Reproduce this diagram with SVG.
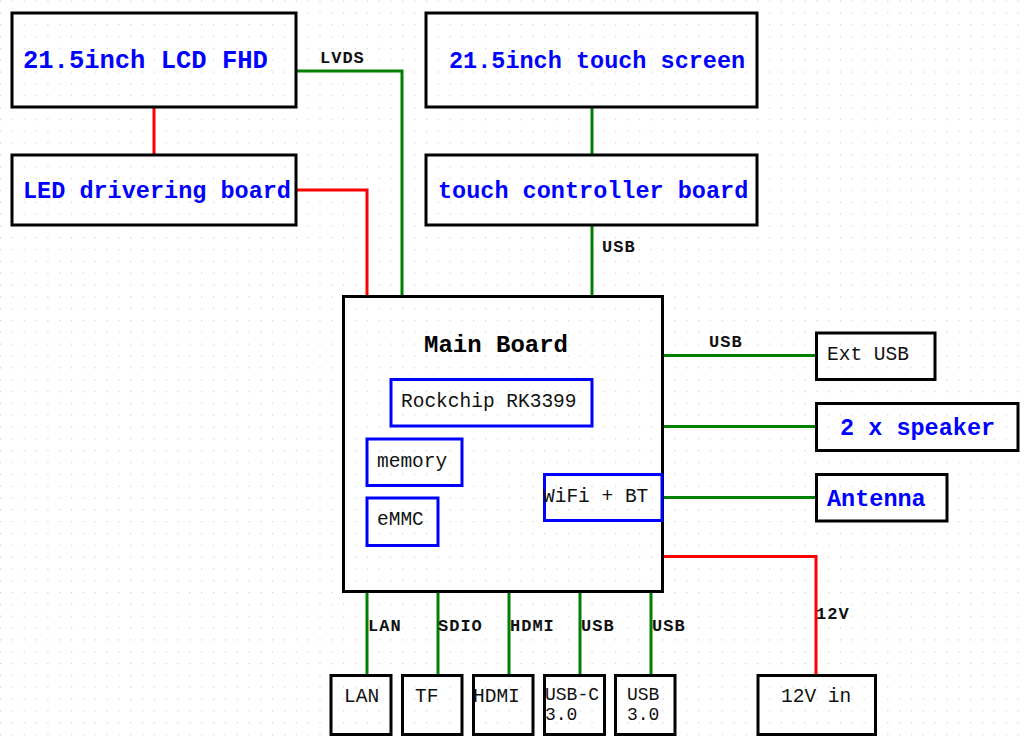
<svg xmlns="http://www.w3.org/2000/svg" width="1025" height="740" viewBox="0 0 1025 740">
<style>
.box{fill:none;stroke:#000;stroke-width:3}
.chip{fill:none;stroke:#0000ff;stroke-width:3}
.g{fill:none;stroke:#008000;stroke-width:3}
.r{fill:none;stroke:#ff0000;stroke-width:3}
text{font-family:"Liberation Mono","Courier New",monospace}
.big{font-size:23.5px;font-weight:bold;fill:#0000ff}
.t{font-size:19.5px;fill:#111}
.s{font-size:18px;fill:#111}
.lb{font-size:17px;fill:#111;font-weight:bold;letter-spacing:1px}
</style>
<defs>
<pattern id="dots" x="0" y="0.5" width="11.83" height="11.83" patternUnits="userSpaceOnUse">
<rect x="0" y="0" width="1.2" height="1.2" fill="#cfcfcf"/>
</pattern>
</defs>
<rect width="1025" height="740" fill="#fff"/>
<rect width="1025" height="740" fill="url(#dots)"/>

<g id="connectors">
<polyline class="g" points="296,71 402,71 402,296"/>
<polyline class="r" points="296,190 367,190 367,296"/>
<line class="r" x1="154" y1="107" x2="154" y2="155"/>
<line class="g" x1="592" y1="107" x2="592" y2="155"/>
<line class="g" x1="592" y1="225" x2="592" y2="296"/>
<line class="g" x1="662" y1="355.5" x2="816" y2="355.5"/>
<line class="g" x1="662" y1="426.5" x2="816" y2="426.5"/>
<line class="g" x1="662" y1="497.5" x2="816" y2="497.5"/>
<polyline class="r" points="662,556.5 816,556.5 816,675"/>
<line class="g" x1="367" y1="591" x2="367" y2="675"/>
<line class="g" x1="438" y1="591" x2="438" y2="675"/>
<line class="g" x1="509" y1="591" x2="509" y2="675"/>
<line class="g" x1="580" y1="591" x2="580" y2="675"/>
<line class="g" x1="651" y1="591" x2="651" y2="675"/>
<text class="lb" x="320" y="63">LVDS</text>
<text class="lb" x="602" y="252">USB</text>
<text class="lb" x="709" y="347">USB</text>
<text class="lb" x="816" y="619">12V</text>
<text class="lb" x="368" y="631">LAN</text>
<text class="lb" x="438" y="631">SDIO</text>
<text class="lb" x="510" y="631">HDMI</text>
<text class="lb" x="581" y="631">USB</text>
<text class="lb" x="652" y="631">USB</text>
</g>

<g id="lcd">
<rect class="box" x="12" y="13" width="284" height="94"/>
<text class="big" x="23" y="68" style="font-size:25.5px">21.5inch LCD FHD</text>
</g>
<g id="led">
<rect class="box" x="12" y="155" width="284" height="70"/>
<text class="big" x="23" y="198">LED drivering board</text>
</g>
<g id="touchscreen">
<rect class="box" x="426" y="13" width="331" height="94"/>
<text class="big" x="449" y="68">21.5inch touch screen</text>
</g>
<g id="touchctrl">
<rect class="box" x="426" y="155" width="331" height="70"/>
<text class="big" x="438" y="198">touch controller board</text>
</g>

<g id="mainboard">
<rect class="box" x="343.5" y="296.5" width="319" height="295"/>
<text x="424" y="352" style="font-size:24px;font-weight:bold;fill:#000">Main Board</text>
</g>
<g id="rockchip">
<rect class="chip" x="391" y="379.5" width="201" height="46.5"/>
<text class="t" x="401" y="407">Rockchip RK3399</text>
</g>
<g id="memory">
<rect class="chip" x="367" y="439" width="95" height="46.5"/>
<text class="t" x="377" y="467">memory</text>
</g>
<g id="emmc">
<rect class="chip" x="367" y="498" width="71" height="47.5"/>
<text class="t" x="377" y="525">eMMC</text>
</g>
<g id="wifi">
<rect class="chip" x="544.5" y="474.5" width="117.5" height="46"/>
<text class="t" x="543" y="502">WiFi + BT</text>
</g>

<g id="extusb">
<rect class="box" x="816.5" y="333" width="118.5" height="46.5"/>
<text class="t" x="827" y="359.5">Ext USB</text>
</g>
<g id="speaker">
<rect class="box" x="816.5" y="403.5" width="201.5" height="47"/>
<text class="big" x="840" y="435">2 x speaker</text>
</g>
<g id="antenna">
<rect class="box" x="816.5" y="474.5" width="130.5" height="46.5"/>
<text class="big" x="827" y="506">Antenna</text>
</g>
<g id="power">
<rect class="box" x="758" y="675.5" width="117.5" height="59"/>
<text class="t" x="781" y="702">12V in</text>
</g>

<g id="lan">
<rect class="box" x="331" y="675.5" width="60" height="59"/>
<text class="t" x="344" y="702">LAN</text>
</g>
<g id="tf">
<rect class="box" x="402.5" y="675.5" width="59.5" height="59"/>
<text class="t" x="415" y="702">TF</text>
</g>
<g id="hdmi">
<rect class="box" x="473.5" y="675.5" width="59.5" height="59"/>
<text class="t" x="473" y="702">HDMI</text>
</g>
<g id="usbc">
<rect class="box" x="544.5" y="675.5" width="60" height="59"/>
<text class="s" x="545" y="700">USB-C</text>
<text class="s" x="545" y="720">3.0</text>
</g>
<g id="usb30">
<rect class="box" x="615.5" y="675.5" width="59.5" height="59"/>
<text class="s" x="627" y="700">USB</text>
<text class="s" x="627" y="720">3.0</text>
</g>
</svg>
